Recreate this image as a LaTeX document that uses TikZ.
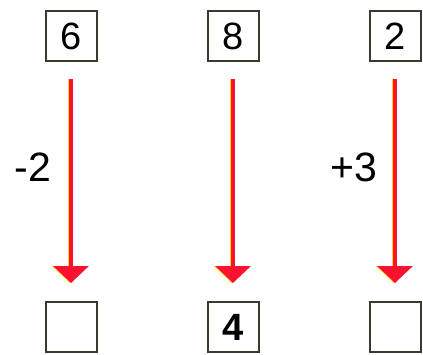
\documentclass[tikz,border=0pt]{standalone}
\usepackage{fontspec}
\setmainfont{Liberation Sans}
\usepackage{xcolor}
\usepackage{tikz}
\usetikzlibrary{arrows.meta}

\definecolor{boxgray}{HTML}{3A3A30}
\definecolor{arrowred}{HTML}{FF1030}
\definecolor{arrowyellow}{HTML}{FFE000}

\begin{document}
\begin{tikzpicture}[
    x=1pt, y=-1pt,
    numbox/.style={rectangle, draw=boxgray, line width=2pt, minimum width=51pt, minimum height=50pt, inner sep=0pt,
        font=\fontsize{38}{38}\selectfont},
    steplabel/.style={inner sep=0pt, font=\fontsize{41}{41}\selectfont},
    downarrow/.style={
        line width=3.5pt, draw=arrowred, -{Triangle[width=35pt, length=17pt]},
        shorten <=17pt, shorten >=18pt,
        preaction={draw=arrowyellow, line width=3.5pt, -{Triangle[width=35pt, length=17pt]},
            shorten <=17pt, shorten >=18pt, transform canvas={xshift=-1.2pt}}
    }
]
    \useasboundingbox (0,0) rectangle (423,354);

    % --- 1. Start numbers ---
    \node[numbox] (t1) at (71, 36) {6};
    \node[numbox] (t2) at (233, 36) {8};
    \node[numbox] (t3) at (395, 36) {2};

    % --- 2. Results ---
    \node[numbox] (b1) at (71, 327) {};
    \node[numbox] (b2) at (233, 327) {\bfseries 4};
    \node[numbox] (b3) at (395, 327) {};

    % --- 3. Steps ---
    \node[steplabel] (s1) at (33, 167) {-2};
    \node[steplabel] (s3) at (354, 167) {+3};

    % --- 4. Arrows ---
    \draw[downarrow] (t1) -- (b1);
    \draw[downarrow] (t2) -- (b2);
    \draw[downarrow] (t3) -- (b3);

\end{tikzpicture}
\end{document}
